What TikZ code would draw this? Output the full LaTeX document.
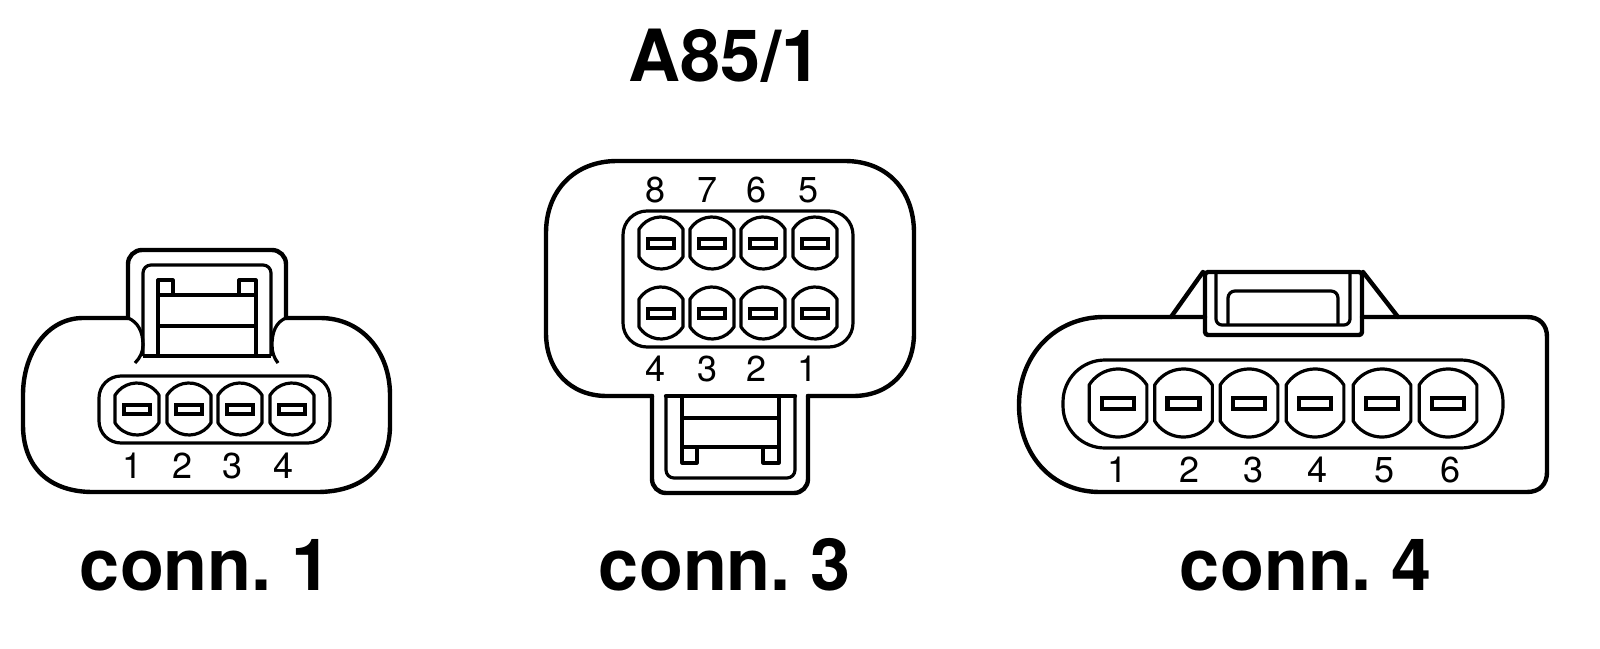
\documentclass[tikz,border=0pt]{standalone}
\usepackage{fontspec}
\setmainfont{TeX Gyre Heros}
\tikzset{
  bodyline/.style={line width=2.2pt,line join=round,line cap=round},
  thinline/.style={line width=1.6pt,line join=round},
  digit/.style={inner sep=0pt,font=\fontsize{18}{20}\selectfont},
  caption/.style={inner sep=0pt,anchor=base,font=\fontsize{36}{40}\selectfont\bfseries}
}
\newcommand\pinA[2]{%
  \draw[thinline,shift={(#1,#2)}] (212:26) arc[start angle=212,end angle=328,radius=26] -- (32:26) arc[start angle=32,end angle=148,radius=26] -- cycle;
  \draw[line width=2pt,shift={(#1,#2)}] (-13,-4) rectangle (13,4.5);}
\newcommand\pinB[2]{%
  \draw[thinline,shift={(#1,#2)}] (212:34) arc[start angle=212,end angle=328,radius=34] -- (32:34) arc[start angle=32,end angle=148,radius=34] -- cycle;
  \draw[line width=2.2pt,shift={(#1,#2)}] (-16,-5) rectangle (16,6);}
\begin{document}
\begin{tikzpicture}[x=0.5pt,y=-0.5pt]
\path[use as bounding box,fill=white] (0,0) rectangle (1600,648);

% titles
\node[caption,font=\fontsize{36}{40}\selectfont\bfseries] (title) at (725,81) {A85/1};
\node[caption] (capa) at (206,590) {conn.\hspace{10pt}1};
\node[caption] (capb) at (725,590) {conn.\hspace{10pt}3};
\node[caption] (capc) at (1306,590) {conn.\hspace{10pt}4};

% ---------- conn. 1
\draw[bodyline] (128,318) -- (83,318) .. controls (48,318) and (23,352) .. (23,395) -- (23,425)
  .. controls (23,468) and (50,492) .. (93,492) -- (317,492)
  .. controls (362,492) and (390,468) .. (390,425) -- (390,395)
  .. controls (390,352) and (362,318) .. (320,318) -- (286,318);
\draw[bodyline,rounded corners=7pt] (128,318) -- (128,250) -- (286,250) -- (286,318);
\draw[thinline] (128,318) .. controls (138,322) and (143,332) .. (143,345) .. controls (143,352) and (140,358) .. (135,363);
\draw[thinline] (286,318) .. controls (276,322) and (272,332) .. (272,345) .. controls (272,352) and (274,358) .. (278,363);
\draw[thinline,rounded corners=4pt] (143,356) -- (143,265) -- (271,265) -- (271,356);
\draw[thinline] (143,356) -- (271,356);
\draw[thinline] (158,356) -- (158,280) -- (173,280) -- (173,295);
\draw[thinline] (256,356) -- (256,280) -- (239,280) -- (239,295);
\draw[thinline] (158,295) -- (256,295);
\draw[thinline] (158,326) -- (256,326);
\draw[thinline,rounded corners=11pt] (99,376) rectangle (330,443);
\pinA{137}{409}\pinA{189}{409}\pinA{240}{409}\pinA{292}{409}
\node[digit] (a1) at (133,466) {1};
\node[digit] (a2) at (183,466) {2};
\node[digit] (a3) at (233,466) {3};
\node[digit] (a4) at (284,466) {4};

% ---------- conn. 3
\draw[bodyline] (652,396) -- (607,396) .. controls (570,396) and (546,370) .. (546,333) -- (546,233)
  .. controls (546,190) and (575,161) .. (617,161) -- (845,161)
  .. controls (887,161) and (914,190) .. (914,233) -- (914,333)
  .. controls (914,370) and (890,396) .. (853,396) -- (808,396);
\draw[bodyline,rounded corners=7pt] (652,396) -- (652,493) -- (808,493) -- (808,396);
\draw[thinline,rounded corners=4pt] (666,396) -- (666,478) -- (795,478) -- (795,396);
\draw[bodyline] (666,396) -- (795,396);
\draw[thinline] (682,396) -- (682,463) -- (697,463) -- (697,447);
\draw[thinline] (779,396) -- (779,463) -- (763,463) -- (763,447);
\draw[thinline] (682,447) -- (779,447);
\draw[thinline] (682,418) -- (779,418);
\draw[thinline,rounded corners=12pt] (623,211) rectangle (853,347);
\pinA{661}{243}\pinA{712}{243}\pinA{763}{243}\pinA{815}{243}
\pinA{661}{313}\pinA{712}{313}\pinA{763}{313}\pinA{815}{313}
\node[digit] (b8) at (655,190) {8};
\node[digit] (b7) at (707,190) {7};
\node[digit] (b6) at (756,190) {6};
\node[digit] (b5) at (808,190) {5};
\node[digit] (b4) at (655,369) {4};
\node[digit] (b3) at (707,369) {3};
\node[digit] (b2) at (756,369) {2};
\node[digit] (b1) at (807,369) {1};

% ---------- conn. 4
\draw[bodyline] (1205,317) -- (1104,317) .. controls (1055,317) and (1019,355) .. (1019,405)
  .. controls (1019,455) and (1052,492) .. (1100,492) -- (1527,492)
  .. controls (1540,492) and (1547,484) .. (1547,472) -- (1547,337)
  .. controls (1547,325) and (1540,317) .. (1527,317) -- (1362,317);
\draw[bodyline,rounded corners=1.5pt] (1205,335) -- (1205,272) -- (1362,272) -- (1362,335) -- cycle;
\draw[bodyline] (1171,317) -- (1203,272);
\draw[bodyline] (1398,317) -- (1363,272);
\draw[thinline,rounded corners=3pt] (1216,272) -- (1216,325) -- (1350,325) -- (1350,272);
\draw[thinline,rounded corners=3.5pt] (1228,325) -- (1228,291) -- (1338,291) -- (1338,325);
\draw[thinline,rounded corners=21pt] (1063,360) rectangle (1503,448);
\pinB{1118}{403}\pinB{1183.5}{403}\pinB{1249}{403}\pinB{1315}{403}\pinB{1382}{403}\pinB{1448}{403}
\node[digit] (c1) at (1117,470) {1};
\node[digit] (c2) at (1189,470) {2};
\node[digit] (c3) at (1253,470) {3};
\node[digit] (c4) at (1317,470) {4};
\node[digit] (c5) at (1384,470) {5};
\node[digit] (c6) at (1450,470) {6};
\end{tikzpicture}
\end{document}
